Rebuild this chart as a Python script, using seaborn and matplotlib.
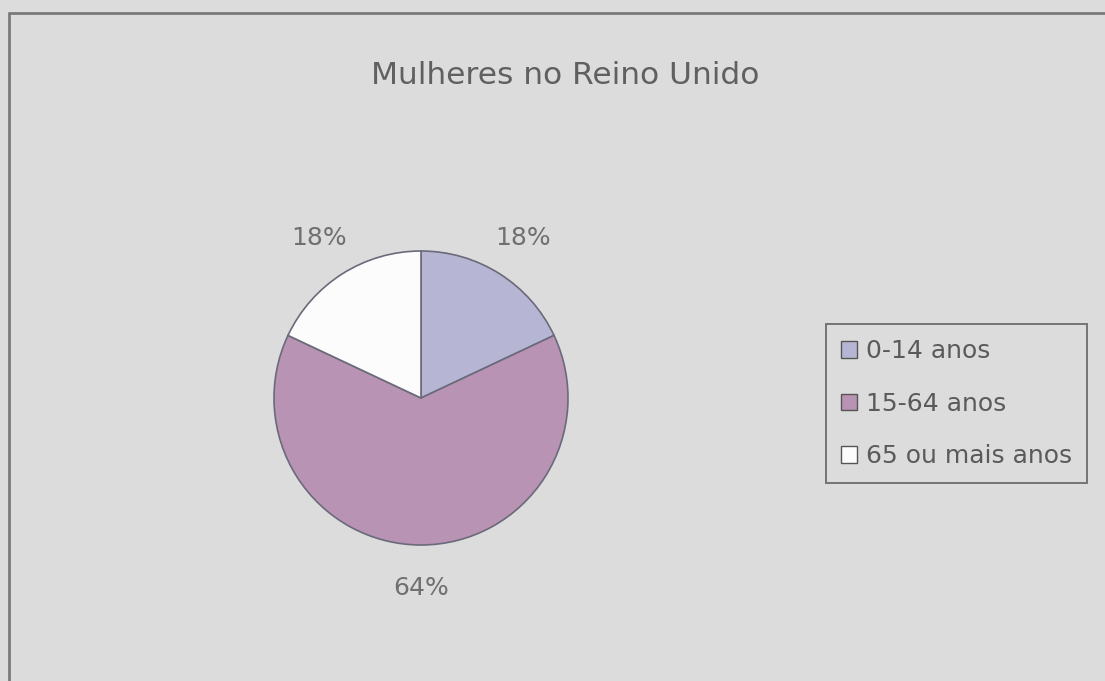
import matplotlib
matplotlib.use("Agg")
import matplotlib.pyplot as plt
from matplotlib.lines import Line2D
from matplotlib.patches import Patch
import seaborn as sns

# Age distribution of women in the United Kingdom (percent)
categories = ["0-14 anos", "15-64 anos", "65 ou mais anos"]
shares = [18, 64, 18]
title = "Mulheres no Reino Unido"

colors = ["#b6b6d4", "#b893b3", "#fcfcfc"]
bg = "#dcdcdc"

sns.set_theme(style="white")
plt.rcParams["font.family"] = ["DejaVu Sans"]

W, H = 1105, 681
fig = plt.figure(figsize=(W / 100, H / 100), dpi=100, facecolor=bg)

# Outer chart frame (top and left edges)
fig.add_artist(Line2D([9 / W, 1.0], [1 - 13 / H, 1 - 13 / H], color="#7a7a7a", lw=2))
fig.add_artist(Line2D([9 / W, 9 / W], [0.0, 1 - 13 / H], color="#7a7a7a", lw=2))

fig.text(565 / W, 1 - 75 / H, title, ha="center", va="center",
         fontsize=22.5, color="#606060")

# Pie axes: center (421, 398) px, radius 147 px
cx, cy, r = 421, 398, 147
half = 150
ax = fig.add_axes([(cx - half) / W, (H - cy - half) / H, 2 * half / W, 2 * half / H])
ax.set_facecolor(bg)
wedges, _, autotexts = ax.pie(
    shares, colors=colors, startangle=90, counterclock=False,
    autopct=lambda p: f"{p:.0f}%", pctdistance=1.29,
    wedgeprops=dict(edgecolor="#6a6a7a", linewidth=1.2),
    textprops=dict(fontsize=18, color="#707070"),
)
lim = half / r
ax.set_xlim(-lim, lim)
ax.set_ylim(-lim, lim)
ax.set_aspect("equal")
ax.axis("off")

# Legend
handles = [Patch(facecolor=c, edgecolor="#555555", linewidth=1.0) for c in colors]
leg = fig.legend(handles, categories, loc="upper left",
                 bbox_to_anchor=(826 / W, 1 - 324 / H),
                 frameon=True, fancybox=False, fontsize=18,
                 handlelength=0.65, handleheight=0.65, handletextpad=0.35,
                 labelspacing=1.15, borderpad=0.6, borderaxespad=0,
                 labelcolor="#5a5a5a")
frame = leg.get_frame()
frame.set_facecolor(bg)
frame.set_edgecolor("#5a5a5a")
frame.set_linewidth(1.4)

fig.savefig("out.png", dpi=100, facecolor=bg)
